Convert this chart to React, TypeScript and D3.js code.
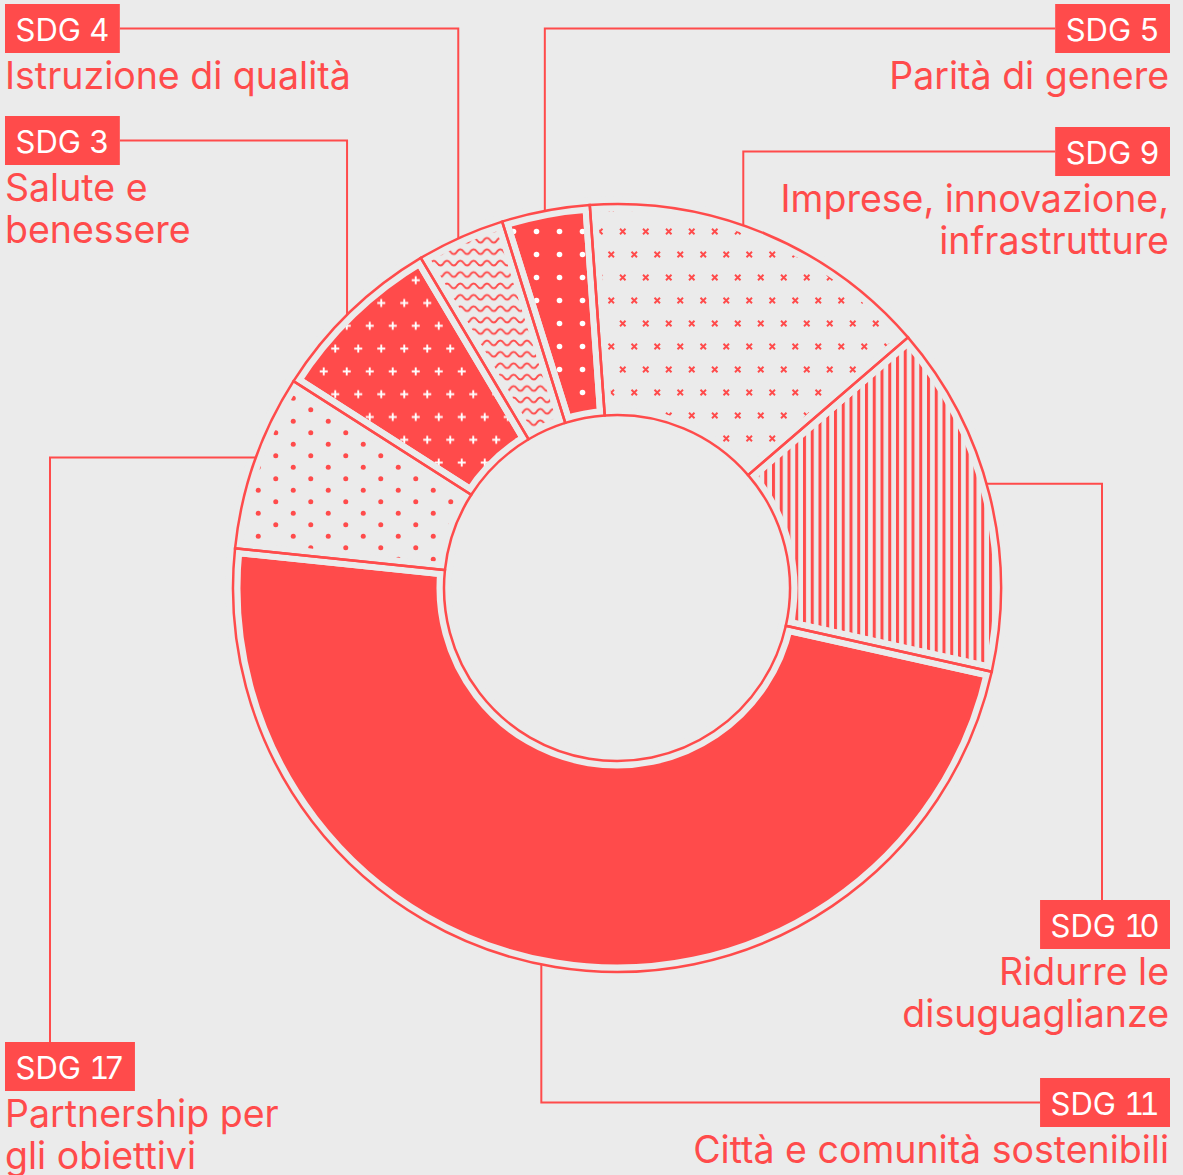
import React, { useLayoutEffect, useRef, useState } from 'react';
import * as d3 from 'd3';

// ---- data ----
const goals = ['SDG 3', 'SDG 4', 'SDG 5', 'SDG 9', 'SDG 10', 'SDG 11', 'SDG 17'];
const counts = [2, 1, 1, 4, 4, 13, 2];
const descriptions = [
  ['Salute e', 'benessere'],
  ['Istruzione di qualità'],
  ['Parità di genere'],
  ['Imprese, innovazione,', 'infrastrutture'],
  ['Ridurre le', 'disuguaglianze'],
  ['Città e comunità sostenibili'],
  ['Partnership per', 'gli obiettivi'],
];
const patternKinds = ['plus', 'waves', 'dots', 'cross', 'vlines', 'solid', 'dotsLight'];

// ---- layout ----
const W = 1183;
const H = 1175;
const CX = 617;
const CY = 588;
const R_OUT = 384;
const R_IN = 173;
const START_DEG = -57.4;
const RED = '#FF4B4B';
const BG = '#EBEBEB';
const FONT = 'Inter, "Noto Sans", sans-serif';
const BOX_FS = 31;
const DESC_FS = 37.5;
const BOX_H = 49;
const BOX_PAD = 10.5;
const LINE_H = 41.5;

type Layout = { side: 'left' | 'right'; boxTop: number; leader: 'top' | 'down' | 'bottom'; nudge: number; elbowX?: number };
const layouts: Layout[] = [
  { side: 'left', boxTop: 116, leader: 'top', nudge: -0.6 },
  { side: 'left', boxTop: 4, leader: 'top', nudge: -0.35 },
  { side: 'right', boxTop: 4, leader: 'top', nudge: -0.1 },
  { side: 'right', boxTop: 127, leader: 'top', nudge: -3.4 },
  { side: 'right', boxTop: 900, leader: 'down', nudge: -1.7, elbowX: 1102 },
  { side: 'right', boxTop: 1078, leader: 'bottom', nudge: 2.1 },
  { side: 'left', boxTop: 1042, leader: 'down', nudge: 0.6, elbowX: 50 },
];
const LEFT_X = 5;
const RIGHT_X = 1170;

function Patterns() {
  return (
    <defs>
      <pattern id="pat-plus" patternUnits="userSpaceOnUse" width={23} height={45.6}>
        <rect width={23} height={45.6} fill={RED} />
        <path d="M1.75,11.4h8M5.75,7.4v8M13.25,34.2h8M17.25,30.2v8" stroke="#fff" strokeWidth={1.9} />
      </pattern>
      <pattern id="pat-waves" patternUnits="userSpaceOnUse" width={13.33} height={11.4}>
        <rect width={13.33} height={11.4} fill={BG} />
        <path d="M-6.665,5.7 Q-3.33,10.6 0,5.7 Q3.33,0.8 6.665,5.7 Q10,10.6 13.33,5.7 Q16.66,0.8 20,5.7" fill="none" stroke={RED} strokeWidth={1.9} />
      </pattern>
      <pattern id="pat-dots" patternUnits="userSpaceOnUse" width={23} height={23}>
        <rect width={23} height={23} fill={RED} />
        <circle cx={11.5} cy={11.5} r={2.8} fill="#fff" />
      </pattern>
      <pattern id="pat-cross" patternUnits="userSpaceOnUse" width={23} height={46}>
        <rect width={23} height={46} fill={BG} />
        <path d="M3,8.75l5.5,5.5M8.5,8.75l-5.5,5.5M14.5,31.75l5.5,5.5M20,31.75l-5.5,5.5" stroke={RED} strokeWidth={1.9} />
      </pattern>
      <pattern id="pat-vlines" patternUnits="userSpaceOnUse" width={7.75} height={10}>
        <rect width={7.75} height={10} fill={BG} />
        <rect x={0} width={3} height={10} fill={RED} />
      </pattern>
      <pattern id="pat-solid" patternUnits="userSpaceOnUse" width={10} height={10}>
        <rect width={10} height={10} fill={RED} />
      </pattern>
      <pattern id="pat-dotsLight" patternUnits="userSpaceOnUse" width={35} height={23}>
        <rect width={35} height={23} fill={BG} />
        <circle cx={8.75} cy={5.75} r={2.5} fill={RED} />
        <circle cx={26.25} cy={17.25} r={2.5} fill={RED} />
      </pattern>
    </defs>
  );
}

// split "SDG 10" into prefix, first digits and last digit so multi-digit numbers can be tightened
function splitGoal(g: string) {
  const m = g.match(/^(.*?)(\d+)$/);
  if (!m) return { prefix: g, head: '', tail: '' };
  const num = m[2];
  return { prefix: m[1], head: num.slice(0, -1), tail: num.slice(-1) };
}

export default function App() {
  const textRefs = useRef<(SVGTextElement | null)[]>([]);
  const [widths, setWidths] = useState<number[]>(goals.map((g) => g.length * BOX_FS * 0.6));

  useLayoutEffect(() => {
    const w = goals.map((g, i) => {
      const el = textRefs.current[i];
      return el ? el.getBBox().width : g.length * BOX_FS * 0.6;
    });
    if (w.some((v, i) => Math.abs(v - widths[i]) > 0.5)) setWidths(w);
  });

  const start = (START_DEG * Math.PI) / 180;
  const pie = d3
    .pie<number>()
    .sort(null)
    .value((d) => d)
    .startAngle(start)
    .endAngle(start + 2 * Math.PI);
  const arcs = pie(counts);
  const arc = d3.arc<d3.PieArcDatum<number>>().innerRadius(R_IN).outerRadius(R_OUT);

  const labels = goals.map((g, i) => {
    const L = layouts[i];
    const a = (arcs[i].startAngle + arcs[i].endAngle) / 2 + (L.nudge * Math.PI) / 180;
    const px = CX + R_OUT * Math.sin(a);
    const py = CY - R_OUT * Math.cos(a);
    const bw = widths[i] + BOX_PAD * 2;
    const bx = L.side === 'left' ? LEFT_X : RIGHT_X - bw;
    const by = L.boxTop;
    const midY = by + BOX_H / 2;
    let d = '';
    if (L.leader === 'top') {
      const sx = L.side === 'left' ? bx + bw : bx;
      d = `M${sx},${midY}H${px}V${py}`;
    } else if (L.leader === 'down') {
      d = `M${px},${py}H${L.elbowX}V${by}`;
    } else {
      d = `M${px},${py}V${midY}H${bx}`;
    }
    return { g, i, L, bx, by, bw, d };
  });

  return (
    <svg
      width={W}
      height={H}
      viewBox={`0 0 ${W} ${H}`}
      style={{ position: 'absolute', left: 0, top: 0, display: 'block' }}
      fontFamily={FONT}
    >
      <Patterns />
      <rect width={W} height={H} fill={BG} />
      <g transform={`translate(${CX},${CY})`}>
        {arcs.map((a, i) => (
          <path key={`f${i}`} d={arc(a) || ''} fill={`url(#pat-${patternKinds[i]})`} />
        ))}
        {arcs.map((a, i) => (
          <path key={`g${i}`} d={arc(a) || ''} fill="none" stroke={BG} strokeWidth={15} />
        ))}
        {arcs.map((a, i) => (
          <path key={`o${i}`} d={arc(a) || ''} fill="none" stroke={RED} strokeWidth={2.5} />
        ))}
      </g>
      {labels.map((l) => (
        <path key={`l${l.i}`} d={l.d} fill="none" stroke={RED} strokeWidth={2} />
      ))}
      {labels.map((l) => {
        const parts = splitGoal(l.g);
        return (
          <g key={`b${l.i}`}>
            <rect x={l.bx} y={l.by} width={l.bw} height={BOX_H} fill={RED} />
            <text
              ref={(el) => {
                textRefs.current[l.i] = el;
              }}
              x={l.bx + BOX_PAD}
              y={l.by + 36.5}
              fontSize={BOX_FS}
              fill="#fff"
              style={{ fontVariantNumeric: 'tabular-nums' }}
            >
              {parts.prefix}
              {parts.head ? <tspan style={{ letterSpacing: '-5px' }}>{parts.head}</tspan> : null}
              {parts.tail}
            </text>
            {descriptions[l.i].map((line, k) => (
              <text
                key={k}
                x={l.L.side === 'left' ? LEFT_X : RIGHT_X - 1}
                y={l.by + BOX_H + 36 + k * LINE_H}
                fontSize={DESC_FS}
                fill={RED}
                textAnchor={l.L.side === 'left' ? 'start' : 'end'}
              >
                {line}
              </text>
            ))}
          </g>
        );
      })}
    </svg>
  );
}
